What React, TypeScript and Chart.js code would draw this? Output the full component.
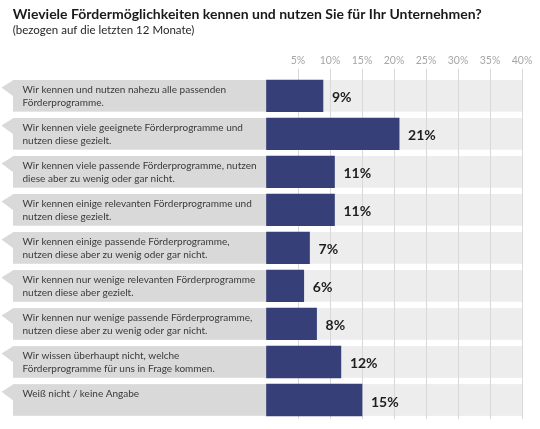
import React, { useEffect, useRef } from "react";
import { Chart, registerables } from "chart.js";

Chart.register(...registerables);

const W = 540;
const H = 429;

const title = "Wieviele Fördermöglichkeiten kennen und nutzen Sie für Ihr Unternehmen?";
const subtitle = "(bezogen auf die letzten 12 Monate)";

const categories: string[][] = [
  ["Wir kennen und nutzen nahezu alle passenden", "Förderprogramme."],
  ["Wir kennen viele geeignete Förderprogramme und", "nutzen diese gezielt."],
  ["Wir kennen viele passende Förderprogramme, nutzen", "diese aber zu wenig oder gar nicht."],
  ["Wir kennen einige relevanten Förderprogramme und", "nutzen diese gezielt."],
  ["Wir kennen einige passende Förderprogramme,", "nutzen diese aber zu wenig oder gar nicht."],
  ["Wir kennen nur wenige relevanten Förderprogramme", "nutzen diese aber gezielt."],
  ["Wir kennen nur wenige passende Förderprogramme,", "nutzen diese aber zu wenig oder gar nicht."],
  ["Wir wissen überhaupt nicht, welche", "Förderprogramme für uns in Frage kommen."],
  ["Weiß nicht / keine Angabe"],
];

const values: number[] = [8.9, 20.8, 10.7, 10.7, 6.8, 5.9, 7.9, 11.7, 15.0];

const axisMin = 0;
const axisMax = 40;
const axisStep = 5;

const FONT = "Lato, 'Open Sans', sans-serif";

export default function App() {
  const ref = useRef<HTMLCanvasElement>(null);

  useEffect(() => {
    const canvas = ref.current;
    if (!canvas) return;

    const bandPlugin = {
      id: "bands",
      beforeDraw(chart: any) {
        const { ctx, chartArea, scales } = chart;
        const meta = chart.getDatasetMeta(0);
        const y = scales.y;
        ctx.save();
        categories.forEach((_, i) => {
          const el: any = meta.data[i];
          const h = el ? el.height : 32;
          const yc = y.getPixelForValue(i);
          const top = yc - h / 2;
          ctx.fillStyle = "#d9d9d9";
          ctx.fillRect(13, top, chartArea.left - 13, h);
          ctx.beginPath();
          ctx.moveTo(13.5, top);
          ctx.lineTo(1.5, top + 7.5);
          ctx.lineTo(13.5, top + 16.5);
          ctx.closePath();
          ctx.fill();
          ctx.fillStyle = "#ededed";
          ctx.fillRect(chartArea.left, top, chartArea.right - chartArea.left + 1, h);
        });
        ctx.restore();
      },
      afterDatasetsDraw(chart: any) {
        const { ctx, scales } = chart;
        const meta = chart.getDatasetMeta(0);
        const y = scales.y;
        ctx.save();
        categories.forEach((lines, i) => {
          const el: any = meta.data[i];
          const h = el ? el.height : 32;
          const yc = y.getPixelForValue(i);
          const top = yc - h / 2;
          ctx.font = `10px ${FONT}`;
          ctx.fillStyle = "#3a3a3a";
          ctx.textAlign = "left";
          ctx.textBaseline = "alphabetic";
          lines.forEach((line, j) => {
            ctx.fillText(line, 22.5, top + 12.8 + j * 13);
          });
          ctx.font = `bold 14px ${FONT}`;
          ctx.fillStyle = "#1e1e1e";
          ctx.textBaseline = "middle";
          ctx.fillText(Math.round(values[i]) + "%", el.x + 9, yc + 2);
        });
        ctx.restore();
      },
      afterDraw(chart: any) {
        const { ctx } = chart;
        ctx.save();
        ctx.textAlign = "left";
        ctx.textBaseline = "alphabetic";
        ctx.fillStyle = "#1a1a1a";
        ctx.font = `bold 14px ${FONT}`;
        ctx.fillText(title, 12.7, 19.3);
        ctx.font = `11.5px ${FONT}`;
        ctx.fillStyle = "#262626";
        ctx.fillText(subtitle, 12.7, 34.3);
        ctx.restore();
      },
    };

    const chart = new Chart(canvas, {
      type: "bar",
      data: {
        labels: categories as any,
        datasets: [
          {
            data: values,
            backgroundColor: "#363f78",
            borderWidth: 0,
            barThickness: 31.7,
          } as any,
        ],
      },
      options: {
        animation: false,
        responsive: false,
        indexAxis: "y",
        layout: { padding: { left: 266, right: 18, top: 52.2, bottom: 10 } },
        plugins: {
          legend: { display: false },
          tooltip: { enabled: false },
          title: { display: false },
        },
        scales: {
          x: {
            position: "top",
            min: axisMin,
            max: axisMax,
            border: { display: false },
            grid: {
              color: (c: any) => (c.tick && c.tick.value === 0 ? "rgba(0,0,0,0)" : "#d9d9d9"),
              tickLength: 8,
              drawTicks: true,
              lineWidth: 1,
            },
            ticks: {
              stepSize: axisStep,
              autoSkip: false,
              maxRotation: 0,
              padding: 2,
              color: "#a6a6a6",
              font: { family: FONT, size: 10.5 },
              callback: (v: any) => (Number(v) === 0 ? "" : v + "%"),
            },
          },
          y: {
            display: false,
            offset: true,
          },
        },
      },
      plugins: [bandPlugin],
    });

    return () => chart.destroy();
  }, []);

  return (
    <div style={{ position: "fixed", left: 0, top: 0, width: W, height: H, background: "#fff" }}>
      <canvas ref={ref} width={W} height={H} style={{ display: "block", width: W, height: H }} />
    </div>
  );
}
